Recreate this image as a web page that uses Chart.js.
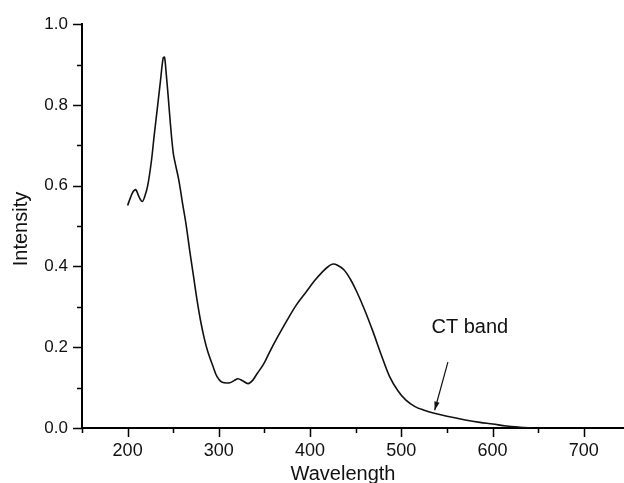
<!DOCTYPE html>
<html>
<head>
<meta charset="utf-8">
<script src="https://cdn.jsdelivr.net/npm/chart.js@4"></script>
<style>
  html, body { margin: 0; padding: 0; background: #fff; }
  #wrap { width: 624px; height: 483px; }
</style>
</head>
<body>
<div id="wrap"><canvas id="c" width="624" height="483"></canvas></div>
<script>
// ---- data ----
const wavelengths = [200,203,206,209,212,216,219,222,226,229,233,236,239,240.5,242,244.5,247,250,252,256,260,264,268,272,276,280,284,288,294,298,303,312,317,321,326,332,337,342,349,356,365,375,385,396,405,414,420,425,430,437,444,451,460,469,478,487,496,505,515,525,535,550,570,586,600,615,630,644];
const intensities = [0.551,0.57,0.585,0.59,0.575,0.561,0.575,0.60,0.66,0.722,0.80,0.86,0.917,0.918,0.885,0.82,0.75,0.681,0.657,0.615,0.559,0.505,0.44,0.379,0.318,0.265,0.222,0.188,0.15,0.127,0.114,0.112,0.118,0.122,0.117,0.110,0.118,0.135,0.158,0.19,0.228,0.268,0.305,0.338,0.365,0.388,0.400,0.406,0.403,0.392,0.369,0.338,0.291,0.238,0.181,0.128,0.093,0.069,0.053,0.044,0.037,0.029,0.02,0.014,0.01,0.005,0.002,0];
const xMajorTicks = [200,300,400,500,600,700];
const xMinorTicks = [150,250,350,450,550,650];
const yMajorTicks = [0.0,0.2,0.4,0.6,0.8,1.0];
const yMinorTicks = [0.1,0.3,0.5,0.7,0.9];
const xTitle = 'Wavelength';
const yTitle = 'Intensity';
const annotationText = 'CT band';
const annotationTextAt = [533, 0.25];     // data coords (left, middle)
const arrowTail = [551, 0.163];
const arrowHead = [536.5, 0.044];

const FONT = '"Liberation Sans", Arial, sans-serif';

const decorations = {
  id: 'decorations',
  afterDraw(chart) {
    const ctx = chart.ctx;
    const xs = chart.scales.x, ys = chart.scales.y;
    const axisX = ys.right, axisY = xs.top;
    ctx.save();
    ctx.strokeStyle = '#000';
    ctx.lineWidth = 1.5;
    ctx.beginPath();
    xMajorTicks.forEach(v => { const p = Math.round(xs.getPixelForValue(v)) + 0.5; ctx.moveTo(p, axisY); ctx.lineTo(p, axisY + 9); });
    xMinorTicks.forEach(v => { const p = Math.round(xs.getPixelForValue(v)) + 0.5; ctx.moveTo(p, axisY); ctx.lineTo(p, axisY + 5); });
    yMajorTicks.forEach(v => { const p = Math.round(ys.getPixelForValue(v)) + 0.5; ctx.moveTo(axisX, p); ctx.lineTo(axisX - 9, p); });
    yMinorTicks.forEach(v => { const p = Math.round(ys.getPixelForValue(v)) + 0.5; ctx.moveTo(axisX, p); ctx.lineTo(axisX - 5, p); });
    ctx.stroke();

    // axis titles
    ctx.fillStyle = '#111';
    ctx.font = '20px ' + FONT;
    ctx.textAlign = 'center';
    ctx.textBaseline = 'alphabetic';
    ctx.fillText(xTitle, 343, 480);
    ctx.save();
    ctx.translate(27, 229);
    ctx.rotate(-Math.PI / 2);
    ctx.fillText(yTitle, 0, 0);
    ctx.restore();

    // annotation
    ctx.textAlign = 'left';
    ctx.textBaseline = 'middle';
    ctx.font = '20px ' + FONT;
    ctx.fillText(annotationText, xs.getPixelForValue(annotationTextAt[0]), ys.getPixelForValue(annotationTextAt[1]));

    const tx = xs.getPixelForValue(arrowTail[0]), ty = ys.getPixelForValue(arrowTail[1]);
    const hx = xs.getPixelForValue(arrowHead[0]), hy = ys.getPixelForValue(arrowHead[1]);
    ctx.lineWidth = 1.2;
    ctx.strokeStyle = '#111';
    ctx.beginPath(); ctx.moveTo(tx, ty); ctx.lineTo(hx, hy); ctx.stroke();
    const ang = Math.atan2(hy - ty, hx - tx);
    const L = 9, W = 0.3;
    ctx.beginPath();
    ctx.moveTo(hx, hy);
    ctx.lineTo(hx - L * Math.cos(ang - W), hy - L * Math.sin(ang - W));
    ctx.lineTo(hx - L * Math.cos(ang + W), hy - L * Math.sin(ang + W));
    ctx.closePath();
    ctx.fillStyle = '#111';
    ctx.fill();
    ctx.restore();
  }
};

new Chart(document.getElementById('c'), {
  type: 'line',
  data: {
    datasets: [{
      data: wavelengths.map((w, i) => ({ x: w, y: intensities[i] })),
      borderColor: '#111',
      borderWidth: 1.6,
      pointRadius: 0,
      fill: false,
      tension: 0.35
    }]
  },
  options: {
    responsive: false,
    animation: false,
    devicePixelRatio: 1,
    layout: { padding: { top: 20, right: 0, left: 0, bottom: 0 } },
    plugins: { legend: { display: false }, tooltip: { enabled: false } },
    scales: {
      x: {
        type: 'linear',
        min: 150,
        max: 744,
        afterBuildTicks: s => { s.ticks = xMajorTicks.map(v => ({ value: v })); },
        afterFit: s => { s.height = 55; },
        grid: { display: false, drawTicks: false },
        border: { display: true, color: '#000', width: 2 },
        ticks: { color: '#111', font: { family: FONT, size: 18 }, padding: 12, maxRotation: 0, autoSkip: false }
      },
      y: {
        min: 0,
        max: 1.0,
        afterBuildTicks: s => { s.ticks = yMajorTicks.map(v => ({ value: v })); },
        afterFit: s => { s.width = 82; },
        grid: { display: false, drawTicks: false },
        border: { display: true, color: '#000', width: 2 },
        ticks: { color: '#111', font: { family: FONT, size: 17 }, padding: 14, callback: v => v.toFixed(1) }
      }
    }
  },
  plugins: [decorations]
});
</script>
</body>
</html>
